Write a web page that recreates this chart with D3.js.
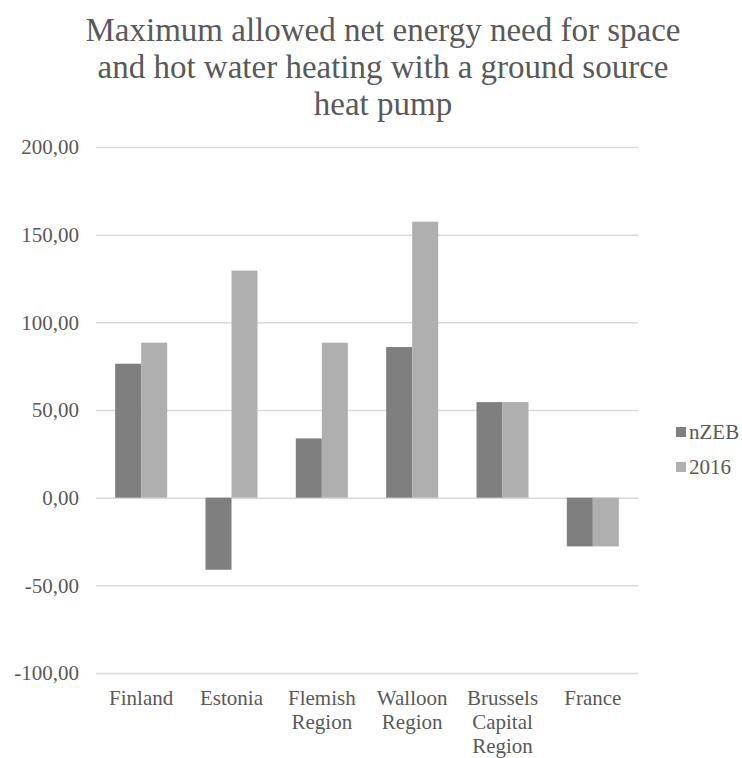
<!DOCTYPE html>
<html>
<head>
<meta charset="utf-8">
<title>Maximum allowed net energy need</title>
<script src="https://cdn.jsdelivr.net/npm/d3@7"></script>
<style>
	body { margin: 0; background: #ffffff; }
	text { font-family: "Liberation Serif", "Times New Roman", serif; fill: #595959; }
	.grid line { stroke: #d9d9d9; stroke-width: 1.5px; }
</style>
</head>
<body>
<svg id="chart"></svg>
<script>
// data
var categories = ["Finland", "Estonia", "Flemish Region", "Walloon Region", "Brussels Capital Region", "France"];
var categoryLines = [["Finland"], ["Estonia"], ["Flemish", "Region"], ["Walloon", "Region"], ["Brussels", "Capital", "Region"], ["France"]];
var seriesNames = ["nZEB", "2016"];
var nzeb = [76.4, -41.1, 33.8, 85.9, 54.5, -27.8];
var y2016 = [88.4, 129.5, 88.4, 157.4, 54.5, -27.8];
var yTicks = [-100, -50, 0, 50, 100, 150, 200];
var titleLines = ["Maximum allowed net energy need for space", "and hot water heating with a ground source", "heat pump"];
var colors = ["#7f7f7f", "#afafaf"];

var width = 742, height = 758;
var svg = d3.select("#chart").attr("width", width).attr("height", height);

// comma decimals, plain hyphen for negatives
var fmt = d3.formatLocale({decimal: ",", thousands: ".", grouping: [3], currency: ["", ""], minus: "-"}).format(".2f");

var x = d3.scaleBand().domain(categories).range([96, 638]).padding(0);
var y = d3.scaleLinear().domain([-100, 200]).range([673, 147]);

var groupW = x.bandwidth() * 0.576;
var x1 = d3.scaleBand().domain(seriesNames).range([0, groupW]);

// title
svg.append("g").selectAll("text")
	.data(titleLines)
	.enter().append("text")
	.attr("x", 383)
	.attr("y", function(d, i) { return 41 + i * 37; })
	.attr("text-anchor", "middle")
	.style("font-size", "33px")
	.text(function(d) { return d; });

// gridlines
svg.append("g")
	.attr("class", "grid")
	.attr("transform", "translate(96,0)")
	.call(d3.axisLeft(y).tickValues(yTicks).tickSize(-(638 - 96)).tickFormat(""))
	.call(function(g) { g.select(".domain").remove(); });

// y tick labels
svg.append("g").selectAll("text")
	.data(yTicks)
	.enter().append("text")
	.attr("x", 79)
	.attr("y", function(d) { return y(d); })
	.attr("dy", "0.35em")
	.attr("text-anchor", "end")
	.style("font-size", "21px")
	.text(function(d) { return fmt(d); });

// bars
var rows = categories.map(function(c, i) { return {cat: c, vals: [nzeb[i], y2016[i]]}; });

var groups = svg.append("g").selectAll("g")
	.data(rows)
	.enter().append("g")
	.attr("transform", function(d) { return "translate(" + (x(d.cat) + (x.bandwidth() - groupW) / 2) + ",0)"; });

groups.selectAll("rect")
	.data(function(d) { return d.vals.map(function(v, j) { return {s: seriesNames[j], v: v, j: j}; }); })
	.enter().append("rect")
	.attr("x", function(d) { return x1(d.s); })
	.attr("width", x1.bandwidth())
	.attr("y", function(d) { return y(Math.max(0, d.v)); })
	.attr("height", function(d) { return Math.abs(y(d.v) - y(0)); })
	.style("fill", function(d) { return colors[d.j]; });

// category labels
var catG = svg.append("g").selectAll("text")
	.data(categories)
	.enter().append("text")
	.attr("x", function(d) { return x(d) + x.bandwidth() / 2; })
	.attr("y", 705)
	.attr("text-anchor", "middle")
	.style("font-size", "21px");

catG.selectAll("tspan")
	.data(function(d, i) { return categoryLines[i]; })
	.enter().append("tspan")
	.attr("x", function() { return d3.select(this.parentNode).attr("x"); })
	.attr("dy", function(d, i) { return i === 0 ? 0 : 24; })
	.text(function(d) { return d; });

// legend
var legend = svg.append("g").selectAll("g")
	.data(seriesNames)
	.enter().append("g")
	.attr("transform", function(d, i) { return "translate(676," + (432 + i * 35) + ")"; });

legend.append("rect")
	.attr("x", 0)
	.attr("y", -5)
	.attr("width", 10)
	.attr("height", 10)
	.style("fill", function(d, i) { return colors[i]; });

legend.append("text")
	.attr("x", 13)
	.attr("y", 0)
	.attr("dy", "0.35em")
	.style("font-size", "21px")
	.text(function(d) { return d; });
</script>
</body>
</html>
